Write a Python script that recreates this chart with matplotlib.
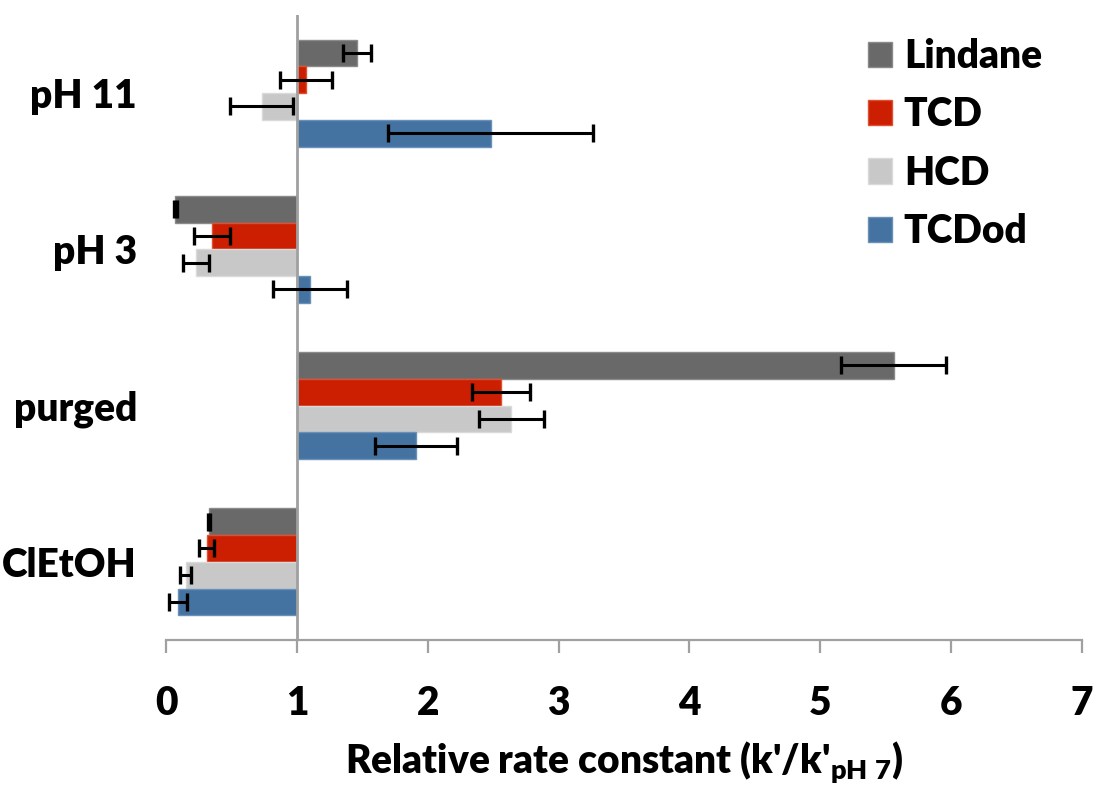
import matplotlib

matplotlib.use("Agg")
import matplotlib.pyplot as plt
import numpy as np

plt.rcParams["font.family"] = ["Lato", "DejaVu Sans"]
plt.rcParams["font.weight"] = "heavy"
plt.rcParams["mathtext.fontset"] = "custom"
plt.rcParams["mathtext.rm"] = "Lato:heavy"
plt.rcParams["mathtext.it"] = "Lato:heavy"
plt.rcParams["mathtext.bf"] = "Lato:heavy"

# relative rate constants
categories = ["pH 11", "pH 3", "purged", "ClEtOH"]
series = ["Lindane", "TCD", "HCD", "TCDod"]
lindane = [1.46, 0.07, 5.56, 0.33]
lindane_err = [0.105, 0.013, 0.40, 0.006]
tcd = [1.07, 0.35, 2.56, 0.31]
tcd_err = [0.20, 0.14, 0.22, 0.055]
hcd = [0.73, 0.23, 2.64, 0.15]
hcd_err = [0.24, 0.10, 0.245, 0.04]
tcdod = [2.48, 1.10, 1.91, 0.09]
tcdod_err = [0.78, 0.28, 0.31, 0.07]

colors = ["#696969", "#cc1e00", "#c8c8c8", "#4473a2"]
edges = ["#8a8a8a", "#e05030", "#dadada", "#6a90b8"]
values = [lindane, tcd, hcd, tcdod]
errors = [lindane_err, tcd_err, hcd_err, tcdod_err]

fig = plt.figure(figsize=(10.96, 7.9), dpi=100)
ax = fig.add_axes([0.1515, 0.19, 0.8357, 0.791])

y = np.arange(len(categories))
h = 0.171
base = 1.0
for j, (name, vals, errs) in enumerate(zip(series, values, errors)):
    vals = np.array(vals)
    yy = y + (j - 1.5) * h
    ax.barh(yy, vals - base, left=base, height=h, color=colors[j],
            edgecolor=edges[j], linewidth=1, label=name, zorder=2)
    ax.errorbar(vals, yy, xerr=errs, fmt="none", ecolor="black",
                elinewidth=2.2, capsize=6.5, capthick=2.4, zorder=4)

ax.axvline(base, color="#a0a0a0", linewidth=2, zorder=3)

ax.set_xlim(0, 7)
ax.set_ylim(3.5, -0.5)
ax.set_xticks(range(8))
ax.set_yticks(y)
ax.set_yticklabels(categories)

for s in ["top", "right", "left"]:
    ax.spines[s].set_visible(False)
ax.spines["bottom"].set_color("#a0a0a0")
ax.spines["bottom"].set_linewidth(1.6)

ax.tick_params(axis="x", direction="out", length=9.5, width=1.6,
               color="#a0a0a0", pad=23, labelsize=28)
ax.tick_params(axis="y", length=0, pad=21, labelsize=28)

ax.set_xlabel(r"Relative rate constant (k'/k'$_{\mathrm{pH\ 7}}$)",
              fontsize=28, fontweight="heavy", labelpad=13)

leg = ax.legend(loc="upper left", bbox_to_anchor=(0.792, 0.952),
                bbox_transform=fig.transFigure, frameon=False,
                fontsize=28, handlelength=0.62, handleheight=0.62,
                handletextpad=0.3, labelspacing=0.55, borderpad=0,
                borderaxespad=0)

fig.savefig("out.png", dpi=100)
